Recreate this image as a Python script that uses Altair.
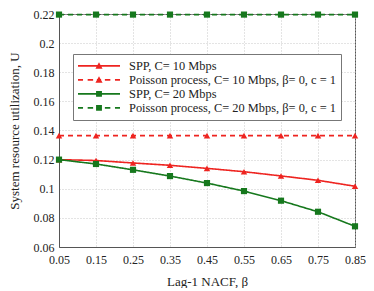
import altair as alt
import pandas as pd

beta = [0.05, 0.15, 0.25, 0.35, 0.45, 0.55, 0.65, 0.75, 0.85]
spp10 = [0.1200, 0.1194, 0.1177, 0.1161, 0.1140, 0.1117, 0.1088, 0.1058, 0.1017]
poisson10 = [0.1365] * 9
spp20 = [0.1200, 0.1170, 0.1130, 0.1087, 0.1039, 0.0984, 0.0918, 0.0842, 0.0742]
poisson20 = [0.2196] * 9

series = [
    "SPP, C= 10 Mbps",
    "Poisson process, C= 10 Mbps, β= 0, c = 1",
    "SPP, C= 20 Mbps",
    "Poisson process, C= 20 Mbps, β= 0, c = 1",
]
colors = ["#ee2420", "#ee2420", "#16781d", "#16781d"]
dashes = [[1, 0], [5, 4], [1, 0], [5, 4]]

# legend glyphs built from filled pieces: line (solid or dashed) + marker
tri = "M-0.17,0.14L0,-0.17L0.17,0.14Z"
sq = "M-0.14,-0.14H0.14V0.14H-0.14Z"
h = 0.038
solid = f"M-1,-{h}H1V{h}H-1Z"
dashed = "".join(f"M{a},-{h}H{b}V{h}H{a}Z" for a, b in
                 [(-1, -0.76), (-0.54, -0.28), (0.28, 0.54), (0.76, 1)])
dashed += f"M-0.1,-{h}H0.1V{h}H-0.1Z"
legend_shapes = [solid + tri, dashed + tri, solid + sq, dashed + sq]

rows = []
for name, vals in zip(series, [spp10, poisson10, spp20, poisson20]):
    for b, v in zip(beta, vals):
        rows.append({"beta": b, "U": v, "series": name})
df = pd.DataFrame(rows)

font = "Liberation Serif"
xs = alt.X("beta:Q", scale=alt.Scale(domain=[0.05, 0.85], nice=False),
           axis=alt.Axis(values=beta, format=".2f", title="Lag-1 NACF, β",
                         titleFontWeight="normal", titleFontSize=13, titlePadding=10,
                         labelFontSize=12, labelPadding=7, ticks=False, labelFlush=False,
                         grid=True, gridDash=[1, 2], gridColor="#c8c8c8",
                         domainColor="#555555", labelColor="#222", titleColor="#222"))
ys = alt.Y("U:Q", scale=alt.Scale(domain=[0.06, 0.22], nice=False),
           axis=alt.Axis(values=[0.06, 0.08, 0.1, 0.12, 0.14, 0.16, 0.18, 0.2, 0.22],
                         format="~g", title="System resource utilization, U",
                         titleFontWeight="normal", titleFontSize=13, titlePadding=12,
                         labelFontSize=12, labelPadding=5, ticks=False, labelFlush=False,
                         grid=True, gridDash=[1, 2], gridColor="#c8c8c8",
                         domainColor="#555555", labelColor="#222", titleColor="#222"))

color_scale = alt.Scale(domain=series, range=colors)

lines = alt.Chart(df).mark_line(strokeWidth=1.6, clip=False).encode(
    x=xs, y=ys,
    color=alt.Color("series:N", scale=color_scale, legend=None),
    strokeDash=alt.StrokeDash("series:N", scale=alt.Scale(domain=series, range=dashes), legend=None),
)

tri_pts = alt.Chart(df).transform_filter(
    alt.FieldOneOfPredicate(field="series", oneOf=series[:2])
).mark_point(filled=True, opacity=1, size=42, shape="triangle-up", clip=False).encode(
    x=xs, y=ys,
    color=alt.Color("series:N", scale=color_scale, legend=None),
)
sq_pts = alt.Chart(df).transform_filter(
    alt.FieldOneOfPredicate(field="series", oneOf=series[2:])
).mark_point(filled=True, opacity=1, size=38, shape="square", clip=False).encode(
    x=xs, y=ys,
    color=alt.Color("series:N", scale=color_scale, legend=None),
)

leg = alt.Legend(
    title=None, orient="none", legendX=14, legendY=40,
    symbolSize=1764, clipHeight=13.7, rowPadding=0, symbolStrokeWidth=0,
    symbolOpacity=1, labelFont=font, labelFontSize=12.4, labelColor="#222",
    labelOffset=9, padding=5, strokeColor="#777777", fillColor="white",
    labelLimit=400,
)

legend_layer = alt.Chart(df).transform_filter("datum.U < 0").mark_point(
    filled=True, opacity=1
).encode(
    x=xs, y=ys,
    color=alt.Color("series:N", scale=alt.Scale(domain=series, range=colors), legend=leg),
    shape=alt.Shape("series:N", scale=alt.Scale(domain=series, range=legend_shapes), legend=leg),
)

chart = alt.layer(lines, tri_pts, sq_pts, legend_layer).resolve_scale(
    color="independent", shape="independent"
).properties(
    width=296, height=233, padding=0
).configure(
    font=font
).configure_view(stroke="#555555")

chart.save("out.html", embed_options={"renderer": "svg", "actions": False})
